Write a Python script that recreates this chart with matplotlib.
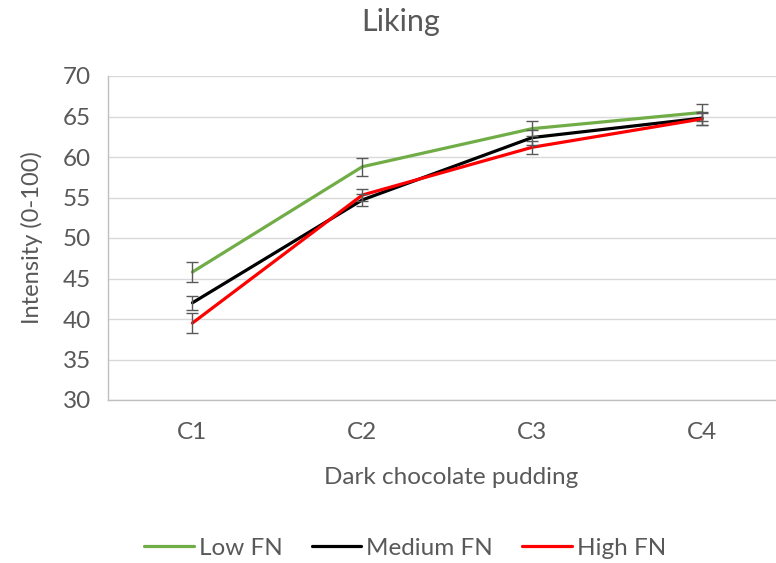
import matplotlib
matplotlib.use("Agg")
import matplotlib.pyplot as plt

plt.rcParams['font.family'] = ['Lato', 'DejaVu Sans']

categories = ["C1", "C2", "C3", "C4"]
series_names = ["Low FN", "Medium FN", "High FN"]
low_fn = [45.8, 58.8, 63.5, 65.5]
medium_fn = [42.0, 54.7, 62.4, 64.8]
high_fn = [39.5, 55.3, 61.2, 64.7]
low_err = [1.2, 1.1, 0.9, 1.1]
medium_err = [0.85, 0.7, 0.9, 0.8]
high_err = [1.2, 0.7, 0.8, 0.75]
colors = ["#70AD47", "#000000", "#FF0000"]
yticks = [30, 35, 40, 45, 50, 55, 60, 65, 70]

fig = plt.figure(figsize=(7.76, 5.63), dpi=100)
ax = fig.add_axes([107.5/776, 1 - 400/563, (787 - 107.5)/776, (400 - 76)/563])

x = list(range(len(categories)))
for vals, errs, c, name in zip([low_fn, medium_fn, high_fn],
                               [low_err, medium_err, high_err],
                               colors, series_names):
    ax.plot(x, vals, color=c, lw=2.3, label=name, zorder=3, solid_capstyle='round')
    ax.errorbar(x, vals, yerr=errs, fmt='none', ecolor='#595959', elinewidth=1.0,
                capsize=4.5, capthick=1.0, zorder=4)

ax.set_xlim(-0.5, 3.5)
ax.set_ylim(30, 70)
ax.set_yticks(yticks)
ax.set_xticks(x)
ax.set_xticklabels(categories)
ax.grid(axis='y', color='#D9D9D9', lw=1.0)
ax.set_axisbelow(True)
for s in ['top', 'right']:
    ax.spines[s].set_visible(False)
for s in ['left', 'bottom']:
    ax.spines[s].set_color('#BFBFBF')
    ax.spines[s].set_linewidth(1.0)
ax.tick_params(length=0, labelsize=17.5, colors='#595959', pad=12)
ax.tick_params(axis='x', pad=16)

ax.set_ylabel("Intensity (0-100)", fontsize=17, color='#595959')
ax.yaxis.set_label_coords((32 - 107.5) / (787 - 107.5), 0.5)
ax.set_xlabel("Dark chocolate pudding", fontsize=17.5, color='#595959')
ax.xaxis.set_label_coords((451 - 107.5) / (787 - 107.5), -(477 - 400) / (400 - 76))
ax.xaxis.label.set_va('center')
ax.yaxis.label.set_va('center')
fig.text(401/776, 1 - 22/563, "Liking", fontsize=22, color='#595959', ha='center', va='center')

leg = fig.legend(loc='center', bbox_to_anchor=(405/776, 1 - 548/563), ncol=3, frameon=False,
                 fontsize=17.5, handlelength=2.05, handletextpad=0.2, columnspacing=1.2)
for t in leg.get_texts():
    t.set_color('#595959')

fig.savefig("out.png", dpi=100)
